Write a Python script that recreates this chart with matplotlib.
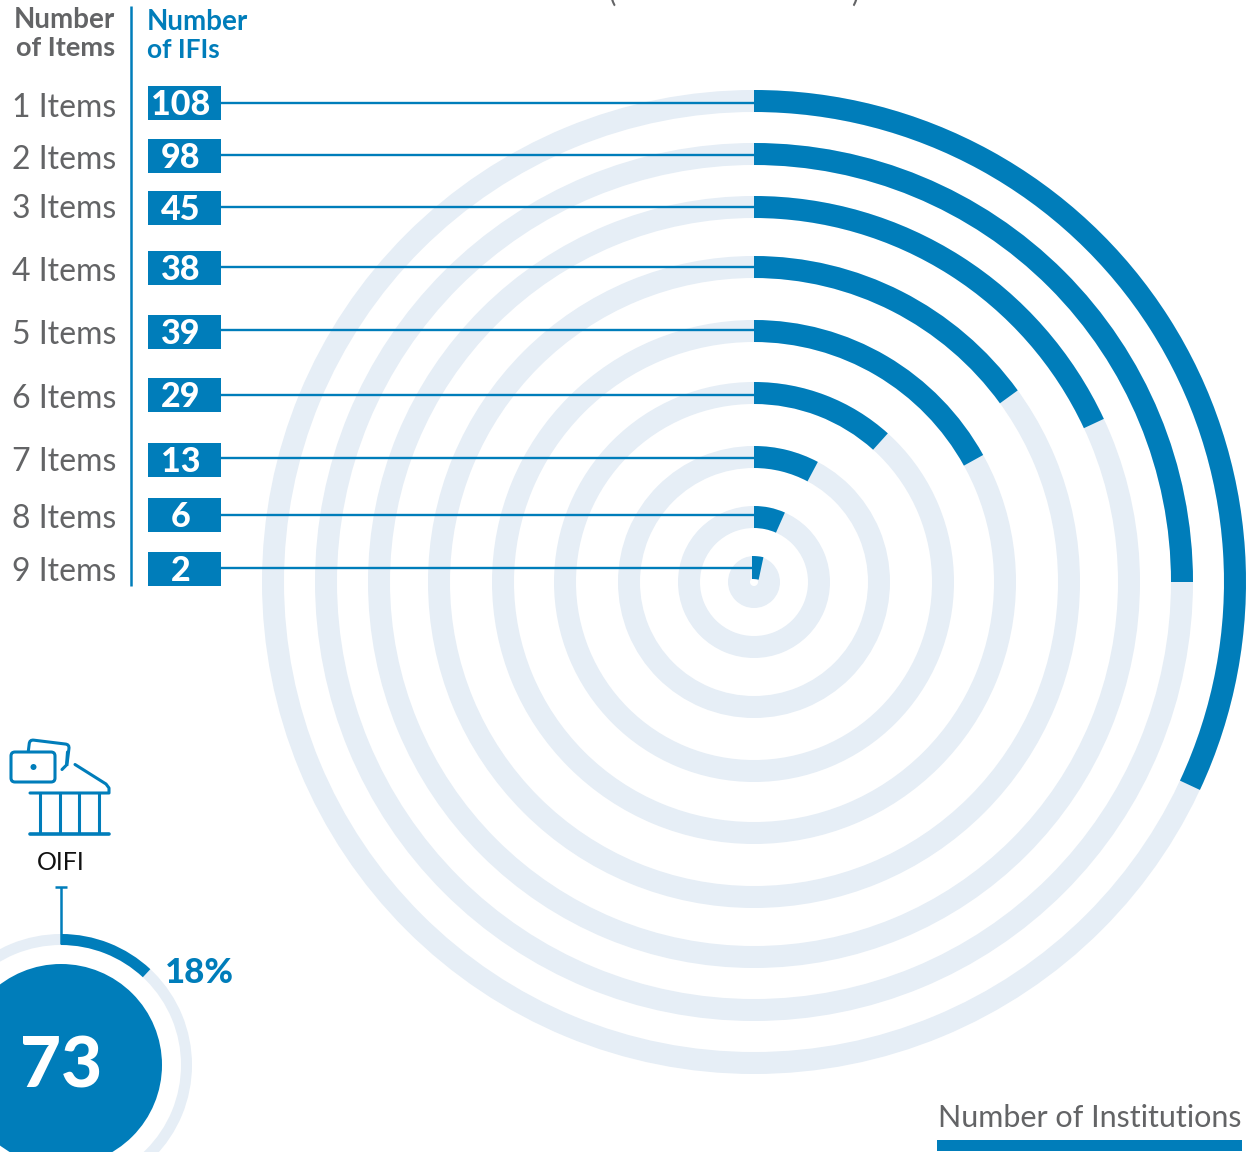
import matplotlib
matplotlib.use("Agg")
import matplotlib.pyplot as plt
from matplotlib.patches import Wedge, Rectangle, Circle, FancyBboxPatch
from matplotlib.transforms import Affine2D

item_labels = ["1 Items", "2 Items", "3 Items", "4 Items", "5 Items", "6 Items", "7 Items", "8 Items", "9 Items"]
ifi_counts = [108, 98, 45, 38, 39, 29, 13, 6, 2]
sweep_deg = [115, 90, 65, 54, 61, 42, 28, 24, 12]
oifi_count = 73
oifi_share = "18%"
oifi_sweep = 43

BLUE = "#007DBA"
LIGHT = "#E6EEF6"
GREY = "#636466"
FONT = "Lato"

W, H = 1259, 1152
fig = plt.figure(figsize=(W / 100, H / 100), dpi=100)
ax = fig.add_axes([0, 0, 1, 1])
ax.set_xlim(0, W)
ax.set_ylim(H, 0)
ax.axis("off")
ax.set_aspect("equal")

cx, cy = 754, 582
outer_r = [492, 439, 386, 326, 262, 200, 136, 76, 26]
ring_w = 22
row_y = [103, 155, 207, 267, 330, 395, 458, 515, 568]
box_y = [103, 156, 208, 268, 332, 395, 460, 515, 569]
label_y = [108, 160, 209, 272, 335, 399, 462, 519, 572]

for i, (r, sweep, y, by, ly, lab, n) in enumerate(zip(outer_r, sweep_deg, row_y, box_y, label_y, item_labels, ifi_counts)):
    ax.add_patch(Wedge((cx, cy), r, 0, 360, width=ring_w, fc=LIGHT, ec="none", zorder=1))
    if i < len(outer_r) - 1:
        ax.add_patch(Wedge((cx, cy), r, -90, -90 + sweep, width=ring_w, fc=BLUE, ec="none", zorder=2))
    else:
        # innermost segment is a blunt wedge in the reference, with its apex below the hub
        ax.add_patch(Wedge((cx - 2, cy + 29), r + 29, -90, -90 + sweep, width=ring_w + 1, fc=BLUE, ec="none", zorder=2))
    ax.plot([221, cx], [y, y], color=BLUE, lw=1.7, zorder=3, solid_capstyle="butt")
    ax.add_patch(Rectangle((148, by - 17), 73, 34, fc=BLUE, ec="none", zorder=4))
    ax.text(181, by + 2, str(n), color="white", fontsize=24.5, fontweight="black", family=FONT,
            ha="center", va="center", zorder=5)
    ax.text(116, ly, lab, color=GREY, fontsize=23, family=FONT, ha="right", va="center", zorder=5)

ax.plot([131.5, 131.5], [6, 586], color=BLUE, lw=1.8, solid_capstyle="butt")
ax.text(115, 20, "Number", color=GREY, fontsize=20, fontweight="bold", family=FONT, ha="right", va="center")
ax.text(115, 48, "of Items", color=GREY, fontsize=19.5, fontweight="bold", family=FONT, ha="right", va="center")
ax.text(147, 22, "Number", color=BLUE, fontsize=20, fontweight="bold", family=FONT, ha="left", va="center")
ax.text(147, 50, "of IFIs", color=BLUE, fontsize=19, fontweight="bold", family=FONT, ha="left", va="center")

# title remnants cropped by the top edge of the reference
ax.text(612, -7, "(", color=GREY, fontsize=20, family=FONT, ha="center", va="center", clip_on=True)
ax.text(855, -7, ")", color=GREY, fontsize=20, family=FONT, ha="center", va="center", clip_on=True)

# legend
ax.text(1242, 1118, "Number of Institutions", color=GREY, fontsize=22, family=FONT, ha="right", va="center")
ax.add_patch(Rectangle((937, 1140), 305, 11, fc=BLUE, ec="none"))

# OIFI donut
ox, oy = 61, 1065
ax.add_patch(Wedge((ox, oy), 131, 0, 360, width=11, fc=LIGHT, ec="none", zorder=1))
ax.add_patch(Wedge((ox, oy), 131, -90, -90 + oifi_sweep, width=11, fc=BLUE, ec="none", zorder=2))
ax.add_patch(Circle((ox, oy), 101, fc=BLUE, ec="none", zorder=2))
ax.text(ox, 1067, str(oifi_count), color="white", fontsize=51, fontweight="black", family=FONT,
        ha="center", va="center", zorder=3)
ax.text(199, 973, oifi_share, color=BLUE, fontsize=25, fontweight="black", family=FONT, ha="center", va="center")
ax.plot([61, 61], [887, 944], color=BLUE, lw=1.8, solid_capstyle="butt")
ax.plot([55, 67], [886.5, 886.5], color=BLUE, lw=1.8, solid_capstyle="butt")
ax.text(61, 863, "OIFI", color="#111111", fontsize=18, family=FONT, ha="center", va="center")

# institution icon
lw = 2.2
back = FancyBboxPatch((28, 742), 40, 26, boxstyle="round,pad=0,rounding_size=4", fc="white", ec=BLUE, lw=lw, zorder=4,
                      transform=Affine2D().rotate_deg_around(48, 755, 7) + ax.transData)
ax.add_patch(back)
ax.add_patch(Rectangle((50, 766), 22, 20, fc="white", ec="none", zorder=4.5))
ax.plot([67.5, 66.5, 62], [752, 765, 769.5], color=BLUE, lw=lw, zorder=4.6, solid_capstyle="round")
ax.add_patch(FancyBboxPatch((11, 752), 44, 30, boxstyle="round,pad=0,rounding_size=4", fc="white", ec=BLUE, lw=lw, zorder=5))
ax.add_patch(Circle((33.5, 767), 3, fc=BLUE, ec="none", zorder=6))
ax.plot([75, 106, 109, 109, 30], [764.5, 784, 788, 793, 793], color=BLUE, lw=lw, solid_capstyle="round", solid_joinstyle="round")
ax.plot([30, 109], [834, 834], color=BLUE, lw=lw + 0.4, solid_capstyle="round")
for x in [40, 60, 79, 99]:
    ax.plot([x, x], [793, 834], color=BLUE, lw=lw, solid_capstyle="butt")

fig.savefig("out.png", dpi=100, facecolor="white")
